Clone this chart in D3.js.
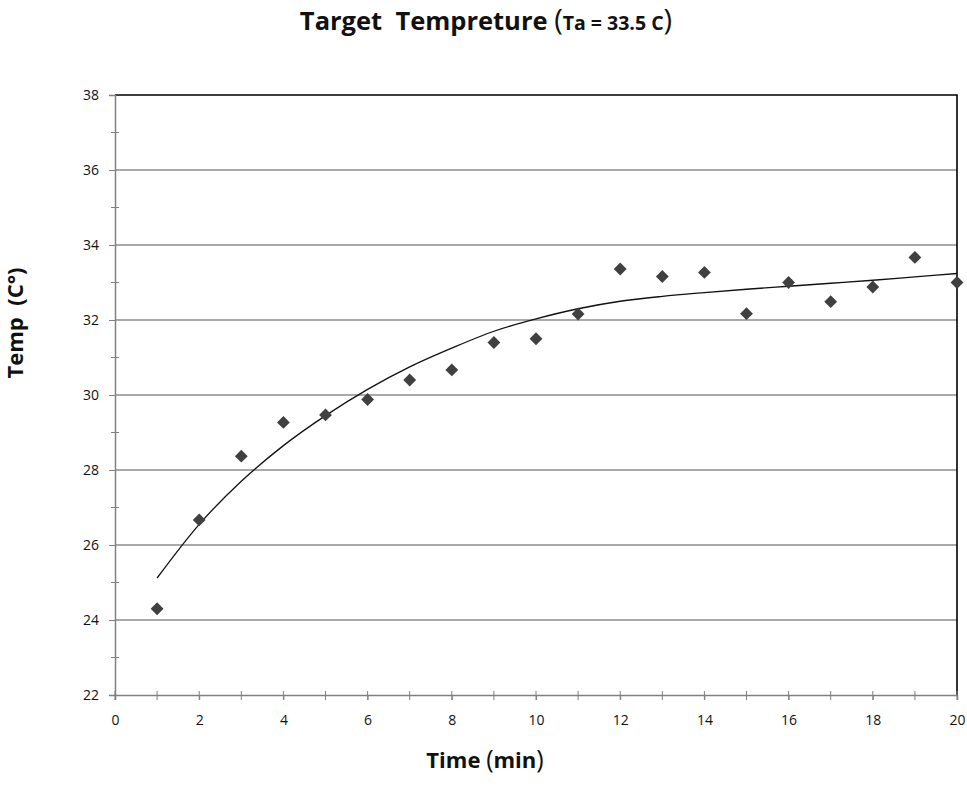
<!DOCTYPE html>
<html>
<head>
<meta charset="utf-8">
<script src="https://d3js.org/d3.v7.min.js"></script>
<style>
  body { margin: 0; background: #fff; }
  text { font-family: "Open Sans", Lato, sans-serif; white-space: pre; }
</style>
</head>
<body>
<svg width="967" height="799"></svg>
<script>
// data
var minutes = [1, 2, 3, 4, 5, 6, 7, 8, 9, 10, 11, 12, 13, 14, 15, 16, 17, 18, 19, 20];
var temps = [24.3, 26.67, 28.37, 29.27, 29.47, 29.88, 30.4, 30.67, 31.4, 31.5,
             32.16, 33.36, 33.16, 33.27, 32.17, 33.0, 32.49, 32.88, 33.67, 33.0];
// trend line as read at each minute
var trend = [25.12, 26.55, 27.7, 28.65, 29.45, 30.15, 30.75, 31.25, 31.7, 32.03,
             32.3, 32.5, 32.63, 32.73, 32.82, 32.9, 32.98, 33.06, 33.15, 33.24];
var xTicks = [0, 2, 4, 6, 8, 10, 12, 14, 16, 18, 20];
var yTicks = [22, 24, 26, 28, 30, 32, 34, 36, 38];

var svg = d3.select("svg");

// Set up margins
var left_margin = 115;
var top_margin = 95;
var width = 842;
var height = 600;

var x = d3.scaleLinear().domain([0, 20]).range([0, width]);
var y = d3.scaleLinear().domain([22, 38]).range([height, 0]);

var g = svg.append("g").attr("transform", "translate(" + left_margin + "," + top_margin + ")");

// gridlines
g.selectAll(".grid")
  .data(yTicks.slice(1, -1))
  .enter().append("line")
    .attr("x1", 0).attr("x2", width)
    .attr("y1", function(d) { return y(d); })
    .attr("y2", function(d) { return y(d); })
    .attr("stroke", "#8c8c8c").attr("stroke-width", 1.3);

// plot border top / right
g.append("path")
  .attr("d", "M0," + y(38) + "H" + width + "V" + height)
  .attr("fill", "none").attr("stroke", "#000").attr("stroke-width", 1.6);

// y axis
var yAxis = g.append("g")
  .call(d3.axisLeft(y).tickValues(yTicks).tickSize(6).tickPadding(10));
// minor ticks
g.selectAll(".yminor")
  .data(d3.range(23, 38, 2))
  .enter().append("line")
    .attr("x1", -4).attr("x2", 4)
    .attr("y1", function(d) { return y(d); })
    .attr("y2", function(d) { return y(d); })
    .attr("stroke", "#808080");

// x axis
var xAxis = g.append("g")
  .attr("transform", "translate(0," + height + ")")
  .call(d3.axisBottom(x).tickValues(xTicks).tickSize(5).tickPadding(15));
g.selectAll(".xcross")
  .data(d3.range(0, 21, 1))
  .enter().append("line")
    .attr("x1", function(d) { return x(d); })
    .attr("x2", function(d) { return x(d); })
    .attr("y1", height - 4).attr("y2", height + 5)
    .attr("stroke", "#808080");

[yAxis, xAxis].forEach(function(a) {
  a.select(".domain").attr("stroke", "#808080").attr("stroke-width", 1.5);
  a.selectAll(".tick line").attr("stroke", "#808080");
  a.selectAll(".tick text").attr("font-size", 14).attr("fill", "#111")
    .attr("font-family", "'Open Sans', sans-serif");
});

// trend line
var line = d3.line()
  .x(function(d, i) { return x(minutes[i]); })
  .y(function(d) { return y(d); })
  .curve(d3.curveMonotoneX);
g.append("path")
  .datum(trend)
  .attr("d", line)
  .attr("fill", "none").attr("stroke", "#111").attr("stroke-width", 1.3);

// diamond markers
g.selectAll(".pt")
  .data(temps)
  .enter().append("path")
    .attr("class", "pt")
    .attr("d", d3.symbol().type(d3.symbolDiamond2).size(105))
    .attr("transform", function(d, i) { return "translate(" + x(minutes[i]) + "," + y(d) + ")"; })
    .attr("fill", "#404040");

// title
var title = svg.append("text")
  .attr("x", 486).attr("y", 30)
  .attr("text-anchor", "middle")
  .attr("font-weight", "bold").attr("font-size", 25.5).attr("fill", "#111");
title.append("tspan").text("Target  Tempreture ");
title.append("tspan").attr("font-size", 29).attr("font-weight", "normal").text("(");
title.append("tspan").attr("font-size", 19.5).text("Ta = 33.5 C");
title.append("tspan").attr("font-size", 29).attr("font-weight", "normal").text(")");

// axis labels
var xl = svg.append("text")
  .attr("x", 485).attr("y", 768)
  .attr("text-anchor", "middle")
  .attr("font-weight", "bold").attr("font-size", 22).attr("fill", "#111");
xl.append("tspan").text("Time ");
xl.append("tspan").attr("font-size", 25).attr("font-weight", "normal").text("(");
xl.append("tspan").text("min");
xl.append("tspan").attr("font-size", 25).attr("font-weight", "normal").text(")");

svg.append("text")
  .attr("transform", "translate(23,323) rotate(-90)")
  .attr("text-anchor", "middle")
  .attr("font-weight", "bold").attr("font-size", 22).attr("fill", "#111")
  .text("Temp  (C°)");
</script>
</body>
</html>
